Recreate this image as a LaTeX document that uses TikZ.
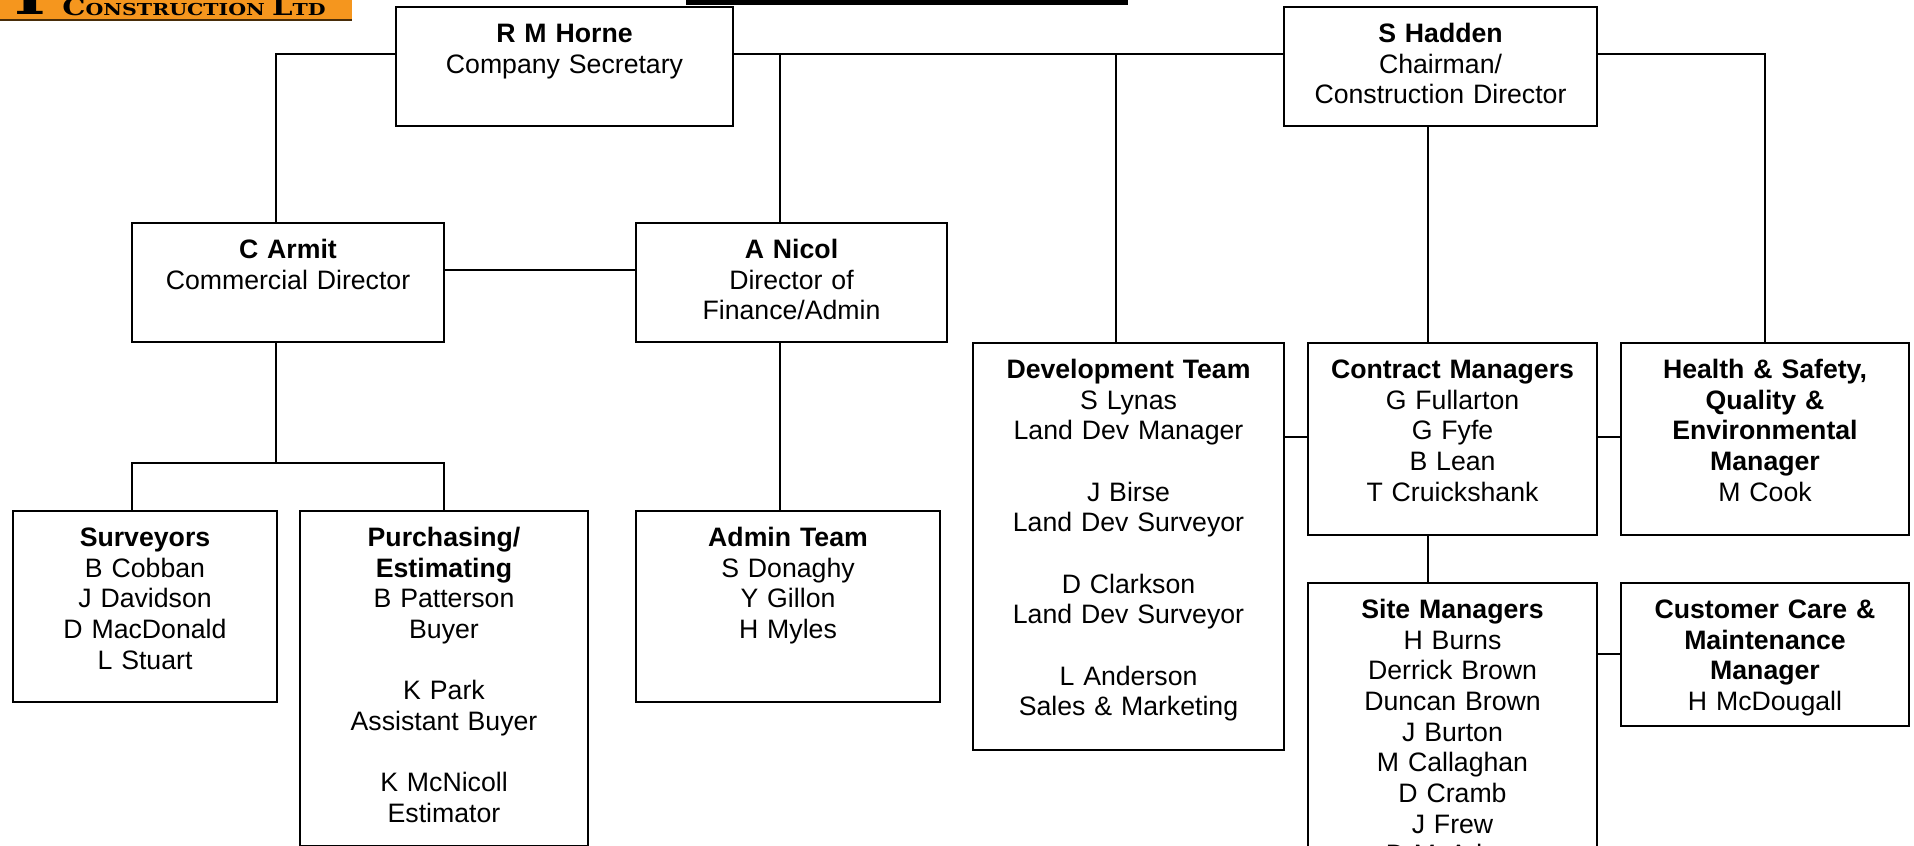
\documentclass[tikz,border=0pt]{standalone}
\usepackage{fontspec}
\setmainfont{Liberation Sans}
\newfontfamily\logofont{DejaVu Serif}[FakeStretch=1.25]
\usetikzlibrary{positioning}
\definecolor{logoorange}{HTML}{F5961E}
\newcommand{\logocap}[1]{{\fontsize{17.5pt}{17.5pt}\selectfont #1}}

\begin{document}
\begin{tikzpicture}[
  x=0.75pt, y=-0.75pt,
  every node/.style={font=\fontsize{20pt}{23pt}\selectfont},
  orgbox/.style 2 args={draw=black, line width=1.5pt, fill=white, anchor=north, align=center,
    inner xsep=0pt, inner ysep=8pt, text height=18.6pt,
    text width=#1*0.75pt, text depth=#2*0.75pt-35.6pt},
  link/.style={draw=black, line width=1.5pt}
]
\useasboundingbox (0,0) rectangle (1914,846);

% Logo strip
\fill[logoorange] (0,0) rectangle (352,20);
\draw[black!70!logoorange, line width=1pt] (0,20) -- (352,20);
\node[anchor=base, inner sep=0pt, font=\logofont\bfseries\fontsize{12.3pt}{13pt}\selectfont] (logo) at (194,15) {\logocap{C}ONSTRUCTION \logocap{L}TD};
\node[anchor=base, inner sep=0pt, font=\bfseries\fontsize{40pt}{40pt}\selectfont] (logotop) at (30,14.5) {\logofont T};
\fill[black] (686,0) rectangle (1128,5);

% Top row
\node[orgbox={337}{120}] (horne) at (564.5,6) {\textbf{R M Horne}\\Company Secretary};
\node[orgbox={313}{120}] (hadden) at (1440.5,6) {\textbf{S Hadden}\\Chairman/\\Construction Director};

% Directors
\node[orgbox={312}{120}] (armit) at (288,222) {\textbf{C Armit}\\Commercial Director};
\node[orgbox={311}{120}] (nicol) at (791.5,222) {\textbf{A Nicol}\\Director of\\Finance/Admin};

% Teams
\node[orgbox={311}{408}] (dev) at (1128.5,342) {\textbf{Development Team}\\S Lynas\\Land Dev Manager\\[23pt]J Birse\\Land Dev Surveyor\\[23pt]D Clarkson\\Land Dev Surveyor\\[23pt]L Anderson\\Sales \& Marketing};
\node[orgbox={289}{193}] (contract) at (1452.5,342) {\textbf{Contract Managers}\\G Fullarton\\G Fyfe\\B Lean\\T Cruickshank};
\node[orgbox={288}{193}] (safety) at (1765,342) {\textbf{Health \& Safety,}\\\textbf{Quality \&}\\\textbf{Environmental}\\\textbf{Manager}\\M Cook};
\node[orgbox={289}{280}] (site) at (1452.5,582) {\textbf{Site Managers}\\H Burns\\Derrick Brown\\Duncan Brown\\J Burton\\M Callaghan\\D Cramb\\J Frew\\D McAdam};
\node[orgbox={288}{144}] (care) at (1765,582) {\textbf{Customer Care \&}\\\textbf{Maintenance}\\\textbf{Manager}\\H McDougall};
\node[orgbox={264}{192}] (surveyors) at (145,510) {\textbf{Surveyors}\\B Cobban\\J Davidson\\D MacDonald\\L Stuart};
\node[orgbox={288}{336}] (purchasing) at (444,510) {\textbf{Purchasing/}\\\textbf{Estimating}\\B Patterson\\Buyer\\[23pt]K Park\\Assistant Buyer\\[23pt]K McNicoll\\Estimator};
\node[orgbox={304}{192}] (admin) at (788,510) {\textbf{Admin Team}\\S Donaghy\\Y Gillon\\H Myles};

% Junctions
\coordinate (rail) at (780,54);
\coordinate (split) at (276,463);

% Connectors
\draw[link] (horne.west |- rail) -| (276,222);
\draw[link] (horne.east |- rail) -- (hadden.west |- rail);
\draw[link] (rail) -- (rail |- nicol.north);
\draw[link] (1116,54) -- (1116,342);
\draw[link] (hadden.east |- rail) -| (safety.north);
\draw[link] (1428,126) -- (1428,342);
\draw[link] (armit.east |- 0,270) -- (nicol.west |- 0,270);
\draw[link] (split |- armit.south) -- (split);
\draw[link] (132,510) |- (split) -| (purchasing.north);
\draw[link] (rail |- nicol.south) -- (rail |- admin.north);
\draw[link] (dev.east |- 0,437) -- (contract.west |- 0,437);
\draw[link] (contract.east |- 0,437) -- (safety.west |- 0,437);
\draw[link] (1428,535) -- (1428,582);
\draw[link] (site.east |- 0,654) -- (care.west |- 0,654);
\end{tikzpicture}
\end{document}
